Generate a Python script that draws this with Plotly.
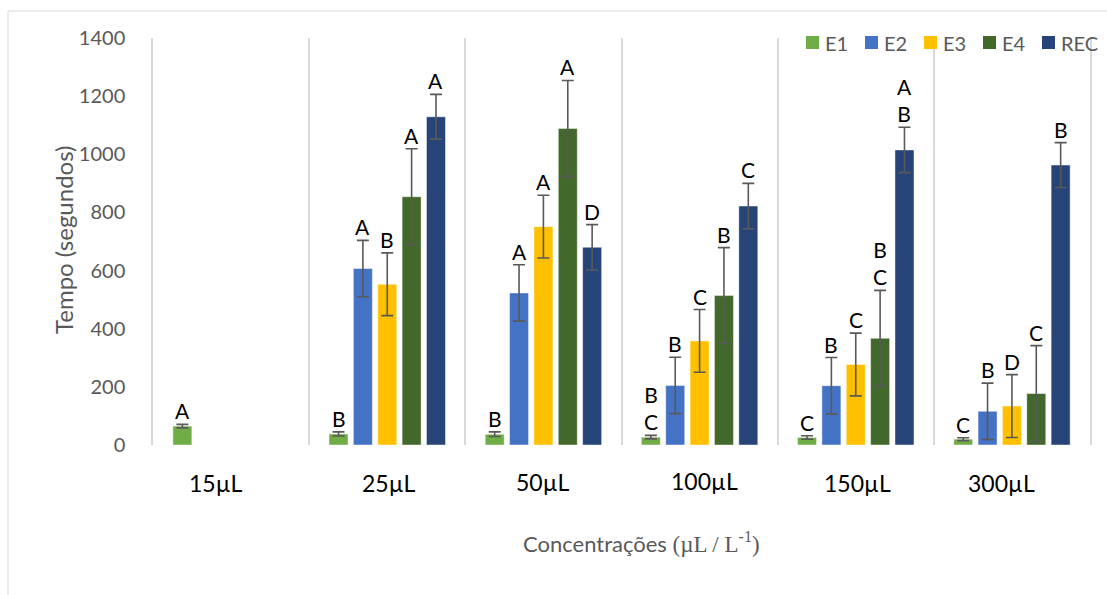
import plotly.graph_objects as go

# Concentration groups on the x axis
categories = ["15µL", "25µL", "50µL", "100µL", "150µL", "300µL"]

# Mean time (seconds) per stage, per concentration
e1 = [65, 38, 37, 27, 26, 20]
e2 = [None, 607, 523, 205, 204, 116]
e3 = [None, 553, 751, 358, 277, 134]
e4 = [None, 854, 1089, 514, 367, 177]
rec = [None, 1129, 680, 822, 1015, 963]

# Error amounts (± seconds)
e1_err = [6, 7, 8, 6, 6, 5]
e2_err = [None, 97, 97, 97, 97, 97]
e3_err = [None, 108, 108, 108, 108, 108]
e4_err = [None, 165, 165, 165, 165, 165]
rec_err = [None, 77, 78, 78, 78, 77]

# Significance letters above each bar
e1_lbl = ["A", "B", "B", "B<br>C", "C", "C"]
e2_lbl = ["", "A", "A", "B", "B", "B"]
e3_lbl = ["", "B", "A", "C", "C", "D"]
e4_lbl = ["", "A", "A", "B", "B<br>C", "C"]
rec_lbl = ["", "A", "D", "C", "A<br>B", "B"]

series = [
    ("E1", e1, e1_err, e1_lbl, "#70AD47"),
    ("E2", e2, e2_err, e2_lbl, "#4472C4"),
    ("E3", e3, e3_err, e3_lbl, "#FFC000"),
    ("E4", e4, e4_err, e4_lbl, "#43682B"),
    ("REC", rec, rec_err, rec_lbl, "#264478"),
]

FONT = "Lato, 'Open Sans', sans-serif"
GREY = "#595959"
W, H = 1107, 595
ML, MR, MT, MB = 153, 17, 38, 150
PW, PH = W - ML - MR, H - MT - MB


def px_x(px):
    return (px - ML) / PW


def px_y(py):
    return (H - MB - py) / PH


fig = go.Figure()
for idx, (name, vals, errs, lbls, color) in enumerate(series):
    fig.add_trace(go.Bar(
        name=name,
        x=categories,
        y=vals,
        marker=dict(color=color, line=dict(color="rgba(255,255,255,0.45)", width=1)),
        error_y=dict(type="data", array=[v if v is not None else 0 for v in errs],
                     visible=True, color=GREY, thickness=1.6, width=6),
        offsetgroup=str(idx),
        showlegend=False,
    ))

# Letters sit just above the top of each error bar
n = len(series)
slot = (1 - 0.22) / n
annotations = []
for idx, (name, vals, errs, lbls, color) in enumerate(series):
    for ci, cat in enumerate(categories):
        if vals[ci] is None or not lbls[ci]:
            continue
        top = vals[ci] + (errs[ci] or 0)
        annotations.append(dict(
            x=ci + (idx - (n - 1) / 2) * slot, xref="x",
            y=top, yref="y", yanchor="bottom", yshift=-1,
            text=lbls[ci], showarrow=False,
            font=dict(family=FONT, size=21, color="black"),
        ))

# Category labels below the plot
label_shift = [-15, 2, 0, 5, 2, -10]
label_yshift = [-1, -1, 0, 1, -1, -1]
for ci, cat in enumerate(categories):
    annotations.append(dict(
        x=ci, xref="x", y=-0.09, yref="paper", yanchor="middle",
        xshift=label_shift[ci], yshift=label_yshift[ci],
        text=cat, showarrow=False,
        font=dict(family=FONT, size=23, color="black"),
    ))

# Axis titles
annotations.append(dict(
    x=px_x(641), xref="paper", y=px_y(542), yref="paper", yanchor="middle",
    text="Concentrações <span style='font-family:\"Liberation Serif\", serif; font-size:23px'>(µL / L<sup>-1</sup>)</span>",
    showarrow=False, font=dict(family=FONT, size=22, color=GREY),
))
annotations.append(dict(
    x=px_x(63), xref="paper", y=px_y(240), yref="paper", textangle=-90,
    xanchor="center", yanchor="middle",
    text="Tempo (segundos)", showarrow=False,
    font=dict(family=FONT, size=24, color=GREY),
))

# Legend row in the top-right corner
shapes = []
for i, (name, vals, errs, lbls, color) in enumerate(series):
    x0 = 806 + 59 * i
    shapes.append(dict(
        type="rect", xref="paper", yref="paper",
        x0=px_x(x0), x1=px_x(x0 + 13), y0=px_y(49), y1=px_y(36),
        line=dict(width=0), fillcolor=color, layer="above",
    ))
    annotations.append(dict(
        x=px_x(x0 + 17), xref="paper", y=px_y(43), yref="paper",
        xanchor="left", yanchor="middle", text=name, showarrow=False,
        font=dict(family=FONT, size=20, color=GREY),
    ))

# Light border around the chart area
shapes.append(dict(
    type="rect", xref="paper", yref="paper",
    x0=px_x(8), x1=px_x(1130), y0=px_y(620), y1=px_y(11),
    line=dict(color="#d9d9d9", width=1), fillcolor="rgba(0,0,0,0)", layer="below",
))

fig.update_layout(
    width=W, height=H,
    margin=dict(l=ML, r=MR, t=MT, b=MB),
    paper_bgcolor="white", plot_bgcolor="white",
    barmode="group", bargap=0.22, bargroupgap=0.22,
    font=dict(family=FONT, color=GREY),
    showlegend=False,
    annotations=annotations,
    shapes=shapes,
)

fig.update_xaxes(
    type="category", tickson="boundaries", showgrid=True,
    gridcolor="#d9d9d9", gridwidth=1.5, showticklabels=False,
    ticks="", showline=False, zeroline=False, range=[-0.5, 5.5],
)
fig.update_yaxes(
    range=[0, 1400], dtick=200, showgrid=False, zeroline=False,
    showline=True, mirror=True, linecolor="#d9d9d9", linewidth=1.5,
    ticks="", ticklabelstandoff=22,
    tickfont=dict(family=FONT, size=20, color=GREY),
)

fig.write_html("out.html")
